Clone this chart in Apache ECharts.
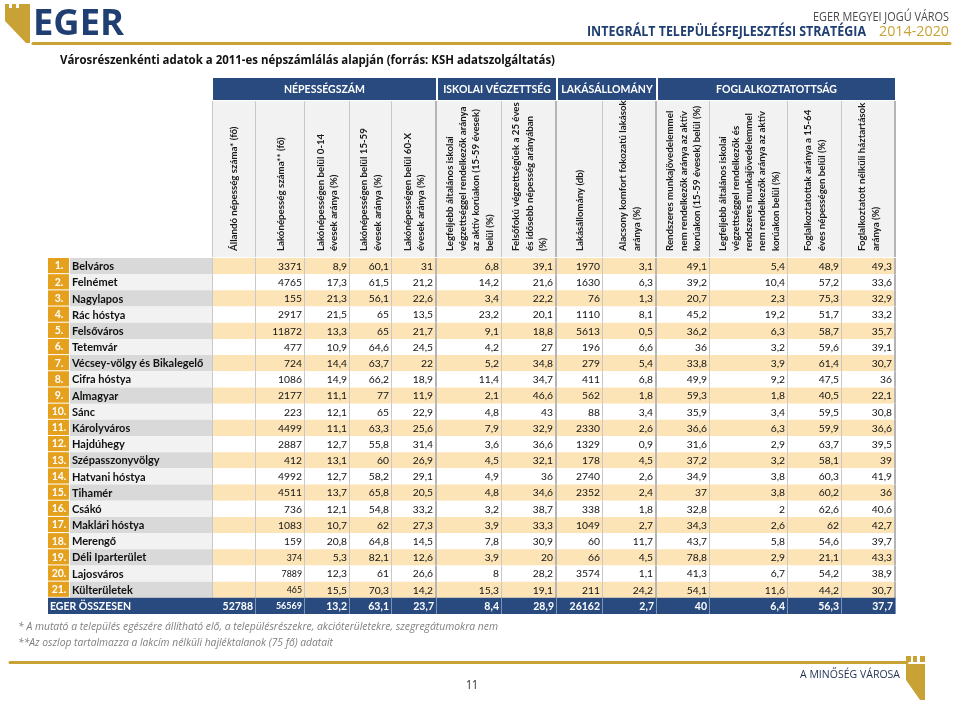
<!DOCTYPE html>
<html><head><meta charset="utf-8">
<script src="https://cdn.jsdelivr.net/npm/echarts@6/dist/echarts.min.js"></script>
<style>html,body{margin:0;padding:0;background:#fff}#c{width:960px;height:705px}</style>
</head><body><div id="c"></div>
<script>
// ---------------- DATA ----------------
const districts = ['Belváros','Felnémet','Nagylapos','Rác hóstya','Felsőváros','Tetemvár','Vécsey-völgy és Bikalegelő','Cifra hóstya','Almagyar','Sánc','Károlyváros','Hajdúhegy','Szépasszonyvölgy','Hatvani hóstya','Tihamér','Csákó','Maklári hóstya','Merengő','Déli Iparterület','Lajosváros','Külterületek'];
const totalLabel = 'EGER ÖSSZESEN';
const groupTitles = ['NÉPESSÉGSZÁM','ISKOLAI VÉGZETTSÉG','LAKÁSÁLLOMÁNY','FOGLALKOZTATOTTSÁG'];
const groupSpans = [5, 2, 2, 4];
const columnTitles = [
  'Állandó népesség száma* (fő)',
  'Lakónépesség száma** (fő)',
  'Lakónépességen belül 0-14\névesek aránya (%)',
  'Lakónépességen belül 15-59\névesek aránya (%)',
  'Lakónépességen belül 60-X\névesek aránya (%)',
  'Legfeljebb általános iskolai\nvégzettséggel rendelkezők aránya\naz aktív korúakon (15-59 évesek)\nbelül (%)',
  'Felsőfokú végzettségűek a 25 éves\nés idősebb népesség arányában\n(%)',
  'Lakásállomány (db)',
  'Alacsony komfort fokozatú lakások\naránya (%)',
  'Rendszeres munkajövedelemmel\nnem rendelkezők aránya az aktív\nkorúakon (15-59 évesek) belül (%)',
  'Legfeljebb általános iskolai\nvégzettséggel rendelkezők és\nrendszeres munkajövedelemmel\nnem rendelkezők aránya az aktív\nkorúakon belül (%)',
  'Foglalkoztatottak aránya a 15-64\néves népességen belül (%)',
  'Foglalkoztatott nélküli háztartások\naránya (%)'
];
const allandoNepesseg = [null,null,null,null,null,null,null,null,null,null,null,null,null,null,null,null,null,null,null,null,null];
const lakonepesseg = [3371,4765,155,2917,11872,477,724,1086,2177,223,4499,2887,412,4992,4511,736,1083,159,374,7889,465];
const kor0_14 = [8.9,17.3,21.3,21.5,13.3,10.9,14.4,14.9,11.1,12.1,11.1,12.7,13.1,12.7,13.7,12.1,10.7,20.8,5.3,12.3,15.5];
const kor15_59 = [60.1,61.5,56.1,65,65,64.6,63.7,66.2,77,65,63.3,55.8,60,58.2,65.8,54.8,62,64.8,82.1,61,70.3];
const kor60x = [31,21.2,22.6,13.5,21.7,24.5,22,18.9,11.9,22.9,25.6,31.4,26.9,29.1,20.5,33.2,27.3,14.5,12.6,26.6,14.2];
const legfeljebbAltalanos = [6.8,14.2,3.4,23.2,9.1,4.2,5.2,11.4,2.1,4.8,7.9,3.6,4.5,4.9,4.8,3.2,3.9,7.8,3.9,8,15.3];
const felsofoku = [39.1,21.6,22.2,20.1,18.8,27,34.8,34.7,46.6,43,32.9,36.6,32.1,36,34.6,38.7,33.3,30.9,20,28.2,19.1];
const lakasallomany = [1970,1630,76,1110,5613,196,279,411,562,88,2330,1329,178,2740,2352,338,1049,60,66,3574,211];
const alacsonyKomfort = [3.1,6.3,1.3,8.1,0.5,6.6,5.4,6.8,1.8,3.4,2.6,0.9,4.5,2.6,2.4,1.8,2.7,11.7,4.5,1.1,24.2];
const rendszeresNelkul = [49.1,39.2,20.7,45.2,36.2,36,33.8,49.9,59.3,35.9,36.6,31.6,37.2,34.9,37,32.8,34.3,43.7,78.8,41.3,54.1];
const legfEsRendszNelkul = [5.4,10.4,2.3,19.2,6.3,3.2,3.9,9.2,1.8,3.4,6.3,2.9,3.2,3.8,3.8,2,2.6,5.8,2.9,6.7,11.6];
const foglalkoztatottak = [48.9,57.2,75.3,51.7,58.7,59.6,61.4,47.5,40.5,59.5,59.9,63.7,58.1,60.3,60.2,62.6,62,54.6,21.1,54.2,44.2];
const foglNelkuliHaztartas = [49.3,33.6,32.9,33.2,35.7,39.1,30.7,36,22.1,30.8,36.6,39.5,39,41.9,36,40.6,42.7,39.7,43.3,38.9,30.7];
const totals = [52788,56569,13.2,63.1,23.7,8.4,28.9,26162,2.7,40,6.4,56.3,37.7];
// cells printed in a smaller font in the source: [row index, value-column index]
const smallCells = [[18,1],[19,1],[20,1],[21,1]];

// ---------------- LAYOUT ----------------
const colWidths = [22,142,44,49,45,42,45,65,55,46,54,53,78,54,54];
const edges = [0]; colWidths.forEach(w => edges.push(edges[edges.length-1] + w));
const TW = edges[edges.length-1];
const valueCols = [allandoNepesseg,lakonepesseg,kor0_14,kor15_59,kor60x,legfeljebbAltalanos,felsofoku,lakasallomany,alacsonyKomfort,rendszeresNelkul,legfEsRendszNelkul,foglalkoztatottak,foglNelkuliHaztartas];
const nRows = districts.length + 1;
const groupStart = [2]; groupSpans.forEach(s => groupStart.push(groupStart[groupStart.length-1] + s));
const groupEdgeCols = new Set(groupStart);
const fmt = v => v == null ? '' : String(v).replace('.', ',');
const FONT = 'Lato';
const DECO = '"Open Sans"';
const NAVY = '#284a7e';
const GOLD = '#c9a235';
const isSmall = (r, vc) => smallCells.some(s => s[0] === r && s[1] === vc);

const bodyData = [];
for (let r = 0; r < nRows; r++) for (let c = 0; c < colWidths.length; c++) bodyData.push([c, r]);

function cellText(c, r) {
  const isTotal = r === districts.length;
  if (c === 0) return isTotal ? totalLabel : (r + 1) + '.';
  if (c === 1) return isTotal ? '' : districts[r];
  return fmt(isTotal ? totals[c-2] : valueCols[c-2][r]);
}

function renderBody(params, api) {
  const c = api.value(0), r = api.value(1);
  const isTotal = r === districts.length;
  const odd = r % 2 === 0;
  if (isTotal && c === 1) return {type: 'group', children: []};
  let x0 = edges[c], x1 = edges[c+1];
  if (isTotal && c === 0) x1 = edges[2];
  const tl = api.coord([x0, r]), br = api.coord([x1, r+1]);
  const X = tl[0], Y = tl[1], W = br[0]-tl[0], H = br[1]-tl[1];
  const ch = [];
  const txt = cellText(c, r);
  if (isTotal) {
    ch.push({type:'rect', shape:{x:X, y:Y, width:W, height:H}, style:{fill:NAVY}});
    if (c >= 2) ch.push({type:'rect', shape:{x:X+W-1, y:Y, width:1, height:H}, style:{fill:'#7d93b5'}});
    if (c === 0) {
      ch.push({type:'text', x:X+2, y:Y+H/2+0.5, style:{text:txt, fill:'#fff', font:'bold 10.5px '+FONT, align:'left', verticalAlign:'middle'}});
    } else {
      const small = isSmall(r, c-2);
      ch.push({type:'text', x:X+W-3, y:Y+H/2+0.5, style:{text:txt, fill:'#fff', font:'bold '+(small?'9px ':'10.5px ')+FONT, align:'right', verticalAlign:'middle'}});
    }
    return {type:'group', children: ch};
  }
  if (c === 0) {
    ch.push({type:'rect', shape:{x:X, y:Y, width:W-1, height:H-1}, style:{fill:'#e5a11d'}});
    ch.push({type:'text', x:X+W/2, y:Y+H/2, style:{text:txt, fill:'#fff', font:'bold 10.5px '+FONT, align:'center', verticalAlign:'middle'}});
  } else if (c === 1) {
    ch.push({type:'rect', shape:{x:X, y:Y, width:W, height:H}, style:{fill: odd ? '#d9d9d9' : '#f2f2f2'}});
    ch.push({type:'text', x:X+2, y:Y+H/2+0.5, style:{text:txt, fill:'#111', font:'bold 11px '+FONT, align:'left', verticalAlign:'middle'}});
  } else {
    ch.push({type:'rect', shape:{x:X, y:Y, width:W, height:H}, style:{fill: odd ? '#fce4b6' : '#ffffff'}});
    const thick = groupEdgeCols.has(c+1);
    ch.push({type:'rect', shape:{x:X+W-(thick?2:1), y:Y, width:thick?2:1, height:H}, style:{fill: thick ? '#b5b5b5' : '#c8c8c8'}});
    if (c === 2) ch.push({type:'rect', shape:{x:X, y:Y, width:1, height:H}, style:{fill:'#c8c8c8'}});
    const small = isSmall(r, c-2);
    ch.push({type:'text', x:X+W-(thick?4:3), y:Y+H/2+0.5, style:{text:txt, fill:'#111', font:(small?'8.8px ':'10.3px ')+FONT, align:'right', verticalAlign:'middle'}});
  }
  return {type:'group', children: ch};
}

function renderGroup(params, api) {
  const g = api.value(0);
  const s = groupStart[g], e = groupStart[g+1];
  const tl = api.coord([edges[s], 0]), br = api.coord([edges[e], 22]);
  return {type:'group', children:[
    {type:'rect', shape:{x:tl[0]+1, y:tl[1], width:br[0]-tl[0]-2, height:br[1]-tl[1]}, style:{fill:NAVY}},
    {type:'text', x:(tl[0]+br[0])/2, y:(tl[1]+br[1])/2+1, style:{text:groupTitles[g], fill:'#fff', font:'bold 10.5px '+FONT, align:'center', verticalAlign:'middle'}}
  ]};
}

function renderHead(params, api) {
  const i = api.value(0);
  const c = i + 2;
  const tl = api.coord([edges[c], 23]), br = api.coord([edges[c+1], 179]);
  const W = br[0]-tl[0], H = br[1]-tl[1];
  const thick = groupEdgeCols.has(c+1);
  const ch = [
    {type:'rect', shape:{x:tl[0], y:tl[1], width:W, height:H}, style:{fill:'#f2f2f2'}},
    {type:'rect', shape:{x:tl[0]+W-(thick?2:1), y:tl[1], width:thick?2:1, height:H}, style:{fill: thick ? '#b5b5b5' : '#c8c8c8'}},
    {type:'text', x:tl[0]+W/2, y:br[1]-6, rotation:Math.PI/2,
     style:{text:columnTitles[i], fill:'#1a1a1a', font:'bold 9.7px '+FONT, align:'left', verticalAlign:'middle', lineHeight:13.3}}
  ];
  if (c === 2) ch.push({type:'rect', shape:{x:tl[0], y:tl[1], width:1, height:H}, style:{fill:'#c8c8c8'}});
  return {type:'group', children: ch};
}

// page rules (gold lines above and below the page body)
function renderRules(params, api) {
  return {type:'group', children:[
    {type:'rect', shape:{x:33, y:42, width:917, height:3}, style:{fill:GOLD}},
    {type:'rect', shape:{x:10, y:661, width:897, height:3}, style:{fill:GOLD}}
  ]};
}

// decorative page texts, horizontally fitted to the width they take in the source
const mctx = document.createElement('canvas').getContext('2d');
function deco(text, font, x, y, width, fill) {
  mctx.font = font;
  const w = mctx.measureText(text).width;
  return {type:'text', x, y, scaleX: width / w, scaleY: 1,
    style:{text, font, fill, align:'left', verticalAlign:'middle'}};
}
function bar(x, y, w, h) {
  return {type:'rect', shape:{x, y, width:w, height:h}, style:{fill:GOLD}};
}
// gold rules also drawn as axis lines of two thin decorative grids
const ruleAxis = gi => ({type:'value', gridIndex:gi, min:0, max:1, show:true,
  axisLine:{show:true, lineStyle:{color:GOLD, width:3}}, axisTick:{show:false}, axisLabel:{show:false}, splitLine:{show:false}});
const ruleYAxis = gi => ({type:'value', gridIndex:gi, min:0, max:1, show:false});

// ---------------- CHART ----------------
const chart = echarts.init(document.getElementById('c'));
const axisX = gi => ({type:'value', gridIndex:gi, min:0, max:TW, show:false});
chart.setOption({
  animation:false,
  grid:[
    {left:48, top:78, width:TW, height:180},
    {left:48, top:258, width:TW, height:356},
    {left:33, top:42.5, width:917, height:1},
    {left:10, top:661.5, width:897, height:1}
  ],
  xAxis:[axisX(0), axisX(1), ruleAxis(2), ruleAxis(3)],
  yAxis:[
    {type:'value', gridIndex:0, min:0, max:180, inverse:true, show:false},
    {type:'value', gridIndex:1, min:0, max:nRows, inverse:true, show:false},
    ruleYAxis(2), ruleYAxis(3)
  ],
  series:[
    {type:'custom', xAxisIndex:0, yAxisIndex:0, renderItem:renderGroup, data:groupTitles.map((t,i)=>[i]), silent:true},
    {type:'custom', xAxisIndex:0, yAxisIndex:0, renderItem:renderHead, data:columnTitles.map((t,i)=>[i]), silent:true},
    {type:'custom', xAxisIndex:1, yAxisIndex:1, renderItem:renderBody, data:bodyData, silent:true},
    {type:'custom', xAxisIndex:0, yAxisIndex:0, renderItem:renderRules, data:[[0]], silent:true, clip:false, z:10}
  ],
  graphic:[
    bar(33, 42, 917, 3),
    bar(10, 661, 897, 3),
    // top logo
    {type:'polygon', shape:{points:[[5,8],[30,8],[30,43],[26,43],[5,21]]}, style:{fill:GOLD}},
    bar(5,4,4,5), bar(12,4,4,5), bar(19,4,11,5),
    deco('EGER', 'bold 35px "Open Sans"', 33, 25, 91, '#1f3f72'),
    deco('EGER MEGYEI JOGÚ VÁROS', '12px '+DECO, 813, 18, 136, '#4a4a4a'),
    deco('INTEGRÁLT TELEPÜLÉSFEJLESZTÉSI STRATÉGIA', 'bold 14px '+DECO, 587, 32, 279, '#1f3f72'),
    deco('2014-2020', '14px '+DECO, 879, 32, 70, GOLD),
    deco('Városrészenkénti adatok a 2011-es népszámlálás alapján (forrás: KSH adatszolgáltatás)', 'bold 13px '+DECO, 60, 60, 495, '#111'),
    // footnotes
    deco('* A mutató a település egészére állítható elő, a településrészekre, akcióterületekre, szegregátumokra nem', 'italic 10px '+DECO, 18, 627, 480, '#7f7f7f'),
    deco('**Az oszlop tartalmazza a lakcím nélküli hajléktalanok (75 fő) adatait', 'italic 10px '+DECO, 18, 643, 315, '#7f7f7f'),
    // bottom
    deco('A MINŐSÉG VÁROSA', '11px '+DECO, 800, 675, 100, '#1f2f4f'),
    deco('11', '12px '+DECO, 466, 686, 12, '#222'),
    {type:'polygon', shape:{points:[[906,664],[925,664],[925,700],[920,700],[906,680]]}, style:{fill:GOLD}},
    bar(906,656,5,6), bar(913,656,4,6), bar(920,656,5,6)
  ]
});
</script></body></html>
